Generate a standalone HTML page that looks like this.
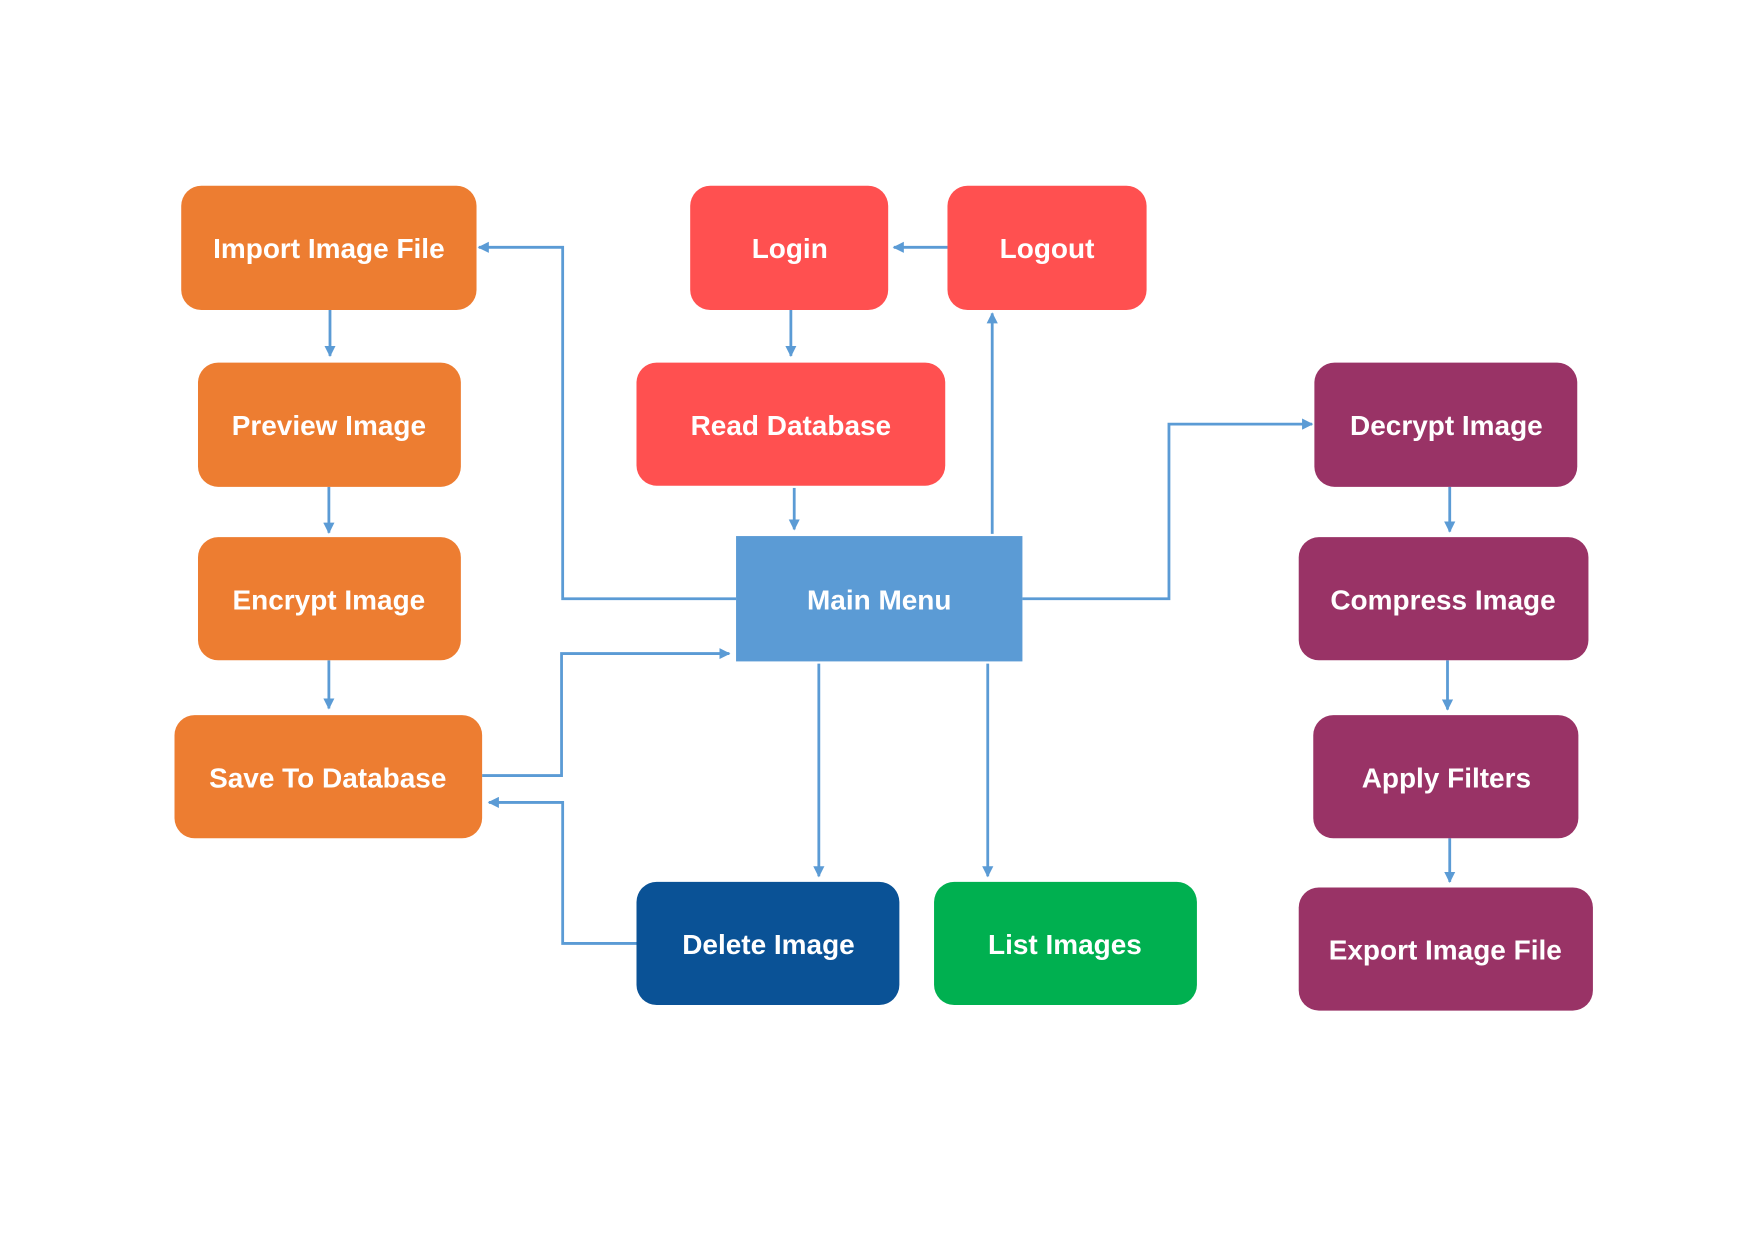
<!DOCTYPE html>
<html><head><meta charset="utf-8"><style>
html,body{margin:0;padding:0;background:#fff;}
svg{display:block}
text{font-family:"Liberation Sans",sans-serif;font-weight:bold;font-size:25px;fill:#fff;text-anchor:middle;dominant-baseline:central}
</style></head><body>
<svg width="1754" height="1240" viewBox="0 0 1568 1108" preserveAspectRatio="none">
<defs><marker id="a" viewBox="0 0 10 10" refX="9" refY="5" markerWidth="4" markerHeight="4" orient="auto"><path d="M0,0L10,5L0,10z" fill="#5B9BD5"/></marker></defs>
<g fill="none" stroke="#5B9BD5" stroke-width="2.5" marker-end="url(#a)">
<path d="M658,535H503V221H428"/>
<path d="M847,221H799"/>
<path d="M707,277V318"/>
<path d="M710,436V473"/>
<path d="M887,477V280"/>
<path d="M914,535H1045V379H1173"/>
<path d="M295,277V318"/>
<path d="M294,435V476"/>
<path d="M294,590V633"/>
<path d="M431,693H502V584H652"/>
<path d="M569,843H503V717H437"/>
<path d="M732,593V783"/>
<path d="M883,593V783"/>
<path d="M1296,435V475"/>
<path d="M1294,590V634"/>
<path d="M1296,749V788"/>
</g>
<g fill="#ED7D31">
<rect x="162" y="166" width="264" height="111" rx="18"/>
<rect x="177" y="324" width="235" height="111" rx="18"/>
<rect x="177" y="480" width="235" height="110" rx="18"/>
<rect x="156" y="639" width="275" height="110" rx="18"/>
</g>
<g fill="#FF5050">
<rect x="617" y="166" width="177" height="111" rx="18"/>
<rect x="847" y="166" width="178" height="111" rx="18"/>
<rect x="569" y="324" width="276" height="110" rx="18"/>
</g>
<rect x="658" y="479" width="256" height="112" fill="#5B9BD5"/>
<g fill="#993366">
<rect x="1175" y="324" width="235" height="111" rx="18"/>
<rect x="1161" y="480" width="259" height="110" rx="18"/>
<rect x="1174" y="639" width="237" height="110" rx="18"/>
<rect x="1161" y="793" width="263" height="110" rx="18"/>
</g>
<rect x="569" y="788" width="235" height="110" rx="18" fill="#0A5296"/>
<rect x="835" y="788" width="235" height="110" rx="18" fill="#00B050"/>
<text x="294" y="222">Import Image File</text>
<text x="294" y="380">Preview Image</text>
<text x="294" y="536">Encrypt Image</text>
<text x="293" y="695">Save To Database</text>
<text x="706" y="222">Login</text>
<text x="936" y="222">Logout</text>
<text x="707" y="380">Read Database</text>
<text x="786" y="536">Main Menu</text>
<text x="1293" y="380">Decrypt Image</text>
<text x="1290" y="536">Compress Image</text>
<text x="1293" y="695">Apply Filters</text>
<text x="1292" y="849">Export Image File</text>
<text x="687" y="844">Delete Image</text>
<text x="952" y="844">List Images</text>
</svg>
</body></html>
